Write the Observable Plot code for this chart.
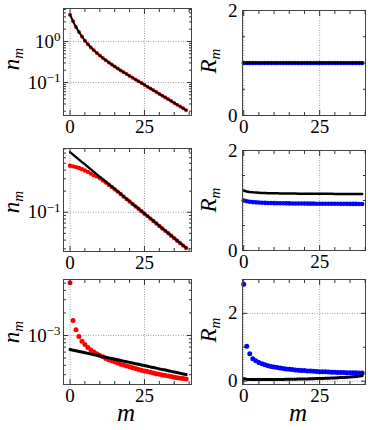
<!DOCTYPE html>
<html><head><meta charset="utf-8">
<script src="https://cdn.jsdelivr.net/npm/d3@7"></script>
<script src="https://cdn.jsdelivr.net/npm/@observablehq/plot@0.6"></script>
<style>
body{margin:0;background:#fff}
#c{position:relative;width:368px;height:430px;overflow:hidden}
#c svg{position:absolute;overflow:visible}
</style></head><body><div id="c"></div>
<script>
const mValues = [0,1,2,3,4,5,6,7,8,9,10,11,12,13,14,15,16,17,18,19,20,21,22,23,24,25,26,27,28,29,30,31,32,33,34,35,36,37,38,39];
const xMajor = [0,25];
const xMinor = [5,10,15,20,30,35,40];

// Row 1
const n1Red = [4.50,3.12,2.26,1.70,1.318,1.05,0.861,0.719,0.611,0.524,0.454,0.396,0.349,0.309,0.274,0.245,0.220,0.197,0.1774,0.1603,0.1445,0.1306,0.1183,0.1072,0.0970,0.0877,0.0793,0.0716,0.0647,0.0585,0.0528,0.0478,0.0432,0.0390,0.0352,0.0318,0.0288,0.0260,0.0235,0.0212];
const n1Black = [4.50,3.12,2.26,1.70,1.318,1.05,0.861,0.719,0.611,0.524,0.454,0.396,0.349,0.309,0.274,0.245,0.220,0.197,0.1774,0.1603,0.1445,0.1306,0.1183,0.1072,0.0970,0.0877,0.0793,0.0716,0.0647,0.0585,0.0528,0.0478,0.0432,0.0390,0.0352,0.0318,0.0288,0.0260,0.0235,0.0212];
const R1Blue = [1,1,1,1,1,1,1,1,1,1,1,1,1,1,1,1,1,1,1,1,1,1,1,1,1,1,1,1,1,1,1,1,1,1,1,1,1,1,1,1];
const R1Black = [1,1,1,1,1,1,1,1,1,1,1,1,1,1,1,1,1,1,1,1,1,1,1,1,1,1,1,1,1,1,1,1,1,1,1,1,1,1,1,1];

// Row 2
const n2Red = [0.461,0.452,0.441,0.429,0.412,0.394,0.377,0.356,0.336,0.325,0.305,0.285,0.266,0.247,0.230,0.213,0.197,0.182,0.167,0.154,0.142,0.131,0.121,0.112,0.1035,0.0953,0.0879,0.0811,0.0748,0.0690,0.0637,0.0587,0.0542,0.0500,0.0461,0.0426,0.0392,0.0362,0.0334,0.0309];
const n2Black = [0.720,0.664,0.613,0.565,0.521,0.481,0.444,0.409,0.378,0.348,0.321,0.296,0.273,0.252,0.233,0.215,0.198,0.183,0.168,0.155,0.143,0.132,0.122,0.113,0.104,0.0958,0.0884,0.0815,0.0752,0.0694,0.0640,0.0590,0.0545,0.0502,0.0463,0.0428,0.0394,0.0364,0.0336,0.0310];
const R2Blue = [1.00,0.985,0.975,0.968,0.963,0.959,0.956,0.953,0.951,0.949,0.947,0.946,0.945,0.944,0.943,0.942,0.941,0.940,0.940,0.939,0.938,0.938,0.937,0.937,0.936,0.936,0.935,0.935,0.935,0.934,0.934,0.934,0.933,0.933,0.933,0.932,0.932,0.932,0.931,0.931];
const R2Black = [1.20,1.18,1.17,1.163,1.158,1.154,1.151,1.149,1.147,1.145,1.144,1.143,1.142,1.141,1.140,1.139,1.138,1.138,1.137,1.137,1.136,1.136,1.135,1.135,1.134,1.134,1.134,1.133,1.133,1.133,1.132,1.132,1.132,1.131,1.131,1.131,1.130,1.130,1.130,1.130];

// Row 3
const n3Red = [5.05e-3,1.58e-3,1.19e-3,9.7e-4,8.4e-4,7.6e-4,6.9e-4,6.4e-4,6.0e-4,5.7e-4,5.4e-4,5.2e-4,4.95e-4,4.75e-4,4.6e-4,4.45e-4,4.3e-4,4.15e-4,4.03e-4,3.92e-4,3.82e-4,3.72e-4,3.62e-4,3.53e-4,3.45e-4,3.37e-4,3.30e-4,3.23e-4,3.16e-4,3.10e-4,3.04e-4,2.98e-4,2.93e-4,2.88e-4,2.83e-4,2.78e-4,2.74e-4,2.70e-4,2.66e-4,2.62e-4];
const n3Black = [6.50e-4,6.37e-4,6.25e-4,6.13e-4,6.01e-4,5.89e-4,5.77e-4,5.66e-4,5.55e-4,5.44e-4,5.33e-4,5.23e-4,5.13e-4,5.03e-4,4.93e-4,4.83e-4,4.74e-4,4.64e-4,4.55e-4,4.46e-4,4.38e-4,4.29e-4,4.21e-4,4.13e-4,4.05e-4,3.97e-4,3.89e-4,3.81e-4,3.74e-4,3.67e-4,3.59e-4,3.52e-4,3.46e-4,3.39e-4,3.32e-4,3.26e-4,3.20e-4,3.13e-4,3.07e-4,3.01e-4];
const R3Blue = [2.86,1.03,0.81,0.66,0.60,0.55,0.51,0.48,0.45,0.435,0.42,0.405,0.39,0.375,0.36,0.35,0.34,0.33,0.32,0.315,0.31,0.30,0.295,0.29,0.285,0.28,0.277,0.273,0.27,0.265,0.26,0.257,0.255,0.252,0.25,0.248,0.246,0.244,0.242,0.24];
const R3Black = [0.07,0.055,0.05,0.047,0.045,0.044,0.044,0.044,0.045,0.046,0.047,0.048,0.049,0.05,0.052,0.053,0.055,0.057,0.059,0.061,0.063,0.065,0.068,0.071,0.074,0.077,0.08,0.083,0.087,0.091,0.095,0.1,0.105,0.11,0.116,0.122,0.13,0.138,0.147,0.16];

// y ticks
const y1Major = [1,0.1], y1Labels = ["10^0","10^−1"];
const y1Minor = [0.02,0.03,0.04,0.05,0.06,0.07,0.08,0.09,0.2,0.3,0.4,0.5,0.6,0.7,0.8,0.9,2,3,4,5,6];
const y2Major = [0.1], y2Labels = ["10^−1"];
const y2Minor = [0.03,0.04,0.05,0.06,0.07,0.08,0.09,0.2,0.3,0.4,0.5,0.6,0.7,0.8];
const y3Major = [0.001], y3Labels = ["10^−3"];
const y3Minor = [3e-4,4e-4,5e-4,6e-4,7e-4,8e-4,9e-4,2e-3,3e-3,4e-3,5e-3];
const rMajor = [0,2], rMinorA = [0.5,1,1.5], rMinorB = [1,3];

const FONT = '"Liberation Serif", "Times New Roman", serif';
const C = document.getElementById("c");
const TICK = "#333";

function panel(o) {
  const fmtY = o.yLabels ? (d => o.yLabels[o.yMajor.indexOf(d)]) : (d => String(d));
  const marks = [
    Plot.gridX(xMajor, {stroke:"#888", strokeOpacity:1, strokeDasharray:"1,1.5", strokeWidth:0.8}),
    Plot.gridY(o.yMajor, {stroke:"#888", strokeOpacity:1, strokeDasharray:"1,1.5", strokeWidth:0.8}),
    ...o.marks,
    Plot.frame({stroke:"#444", strokeWidth:1}),
    Plot.axisX(xMajor, {anchor:"bottom", tickSize:0, tickPadding:4, label:null, tickFormat:d=>String(d), fontVariant:"normal"}),
    Plot.axisX(xMajor, {anchor:"bottom", tickSize:-5, label:null, tickFormat:()=>"", stroke:TICK}),
    Plot.axisX(xMajor, {anchor:"top", tickSize:-5, label:null, tickFormat:()=>"", stroke:TICK}),
    Plot.axisX(xMinor, {anchor:"bottom", tickSize:-3, label:null, tickFormat:()=>"", stroke:TICK}),
    Plot.axisX(xMinor, {anchor:"top", tickSize:-3, label:null, tickFormat:()=>"", stroke:TICK}),
    Plot.axisY(o.yMajor, {anchor:"left", tickSize:0, tickPadding:o.yPad, label:null, tickFormat:fmtY, fontVariant:"normal"}),
    Plot.axisY(o.yMajor, {anchor:"left", tickSize:-5, label:null, tickFormat:()=>"", stroke:TICK}),
    Plot.axisY(o.yMajor, {anchor:"right", tickSize:-5, label:null, tickFormat:()=>"", stroke:TICK}),
    Plot.axisY(o.yMinor, {anchor:"left", tickSize:-3, label:null, tickFormat:()=>"", stroke:TICK}),
    Plot.axisY(o.yMinor, {anchor:"right", tickSize:-3, label:null, tickFormat:()=>"", stroke:TICK})
  ];
  const svg = Plot.plot({
    width:o.w, height:o.h,
    marginTop:o.mt, marginBottom:o.mb, marginLeft:o.ml, marginRight:o.mr,
    style:{fontFamily:FONT, fontSize:"19px", color:"black", background:"transparent", overflow:"visible"},
    x:{domain:o.xd},
    y:{type:o.yt, domain:o.yd},
    marks
  });
  svg.style.left = o.left + "px";
  svg.style.top = o.top + "px";
  svg.querySelectorAll("text").forEach(t => {
    const s = t.textContent;
    if (s.includes("^")) {
      const [base, exp] = s.split("^");
      t.textContent = "";
      const ns = "http://www.w3.org/2000/svg";
      const a = document.createElementNS(ns, "tspan"); a.textContent = base; t.appendChild(a);
      const b = document.createElementNS(ns, "tspan"); b.textContent = exp;
      b.setAttribute("dy", "-0.5em"); b.setAttribute("font-size", "13px"); t.appendChild(b);
    }
  });
  const sel = d3.select(svg);
  const yl = sel.append("text")
    .attr("transform", `translate(${o.ylx},${o.yly}) rotate(-90)`)
    .attr("text-anchor", "middle")
    .attr("font-style", "italic").attr("fill", "black");
  yl.append("tspan").attr("font-size", 23).text(o.ylab[0]);
  yl.append("tspan").attr("font-size", 15).attr("dy", 4).text(o.ylab[1]);
  if (o.xlab) {
    sel.append("text").attr("x", o.xlab[0]).attr("y", o.xlab[1])
      .attr("text-anchor", "middle")
      .attr("font-style", "italic").attr("font-size", 25).attr("fill", "black").text("m");
  }
  C.appendChild(svg);
}

const leftBase = {left:0, w:195, ml:63, mr:4, xd:[-2.2,40.8], yt:"log", yPad:3, ylx:19, ylab:["n","m"]};
const rightBase = {left:195, w:173, ml:47, mr:3, xd:[-0.4,40.1], yt:"linear", yPad:5, ylx:21, ylab:["R","m"]};

panel({...leftBase, top:0, h:135, mt:8, mb:20, yd:[0.0157,6.38], yMajor:y1Major, yLabels:y1Labels, yMinor:y1Minor, yly:59,
  marks:[
    Plot.dot(mValues, {x:mValues, y:n1Red, r:2, fill:"#ff0000"}),
    Plot.line(mValues, {x:mValues, y:n1Black, stroke:"black", strokeWidth:2, curve:"catmull-rom"})
  ]});
panel({...rightBase, top:0, h:135, mt:10, mb:20, yd:[0,2], yMajor:rMajor, yMinor:rMinorA, yly:61,
  marks:[
    Plot.dot(mValues, {x:mValues, y:R1Blue, r:2.3, fill:"#0000ff"}),
    Plot.line(mValues, {x:mValues, y:R1Black, stroke:"black", strokeWidth:2})
  ]});
panel({...leftBase, top:140, h:135, mt:8, mb:24, yd:[0.0275,0.813], yMajor:y2Major, yLabels:y2Labels, yMinor:y2Minor, yly:62,
  marks:[
    Plot.dot(mValues, {x:mValues, y:n2Red, r:2.2, fill:"#ff0000"}),
    Plot.line(mValues, {x:mValues, y:n2Black, stroke:"black", strokeWidth:2.3})
  ]});
panel({...rightBase, top:140, h:135, mt:10, mb:25, yd:[0,2], yMajor:rMajor, yMinor:rMinorA, yly:60,
  marks:[
    Plot.dot(mValues, {x:mValues, y:R2Blue, r:2.3, fill:"#0000ff"}),
    Plot.line(mValues, {x:mValues, y:R2Black, stroke:"black", strokeWidth:2.5})
  ]});
panel({...leftBase, top:271, h:159, mt:8, mb:46, yd:[2.22e-4,5.58e-3], yMajor:y3Major, yLabels:y3Labels, yMinor:y3Minor, yly:61, xlab:[126,150],
  marks:[
    Plot.dot(mValues, {x:mValues, y:n3Red, r:2.5, fill:"#ff0000"}),
    Plot.line(mValues, {x:mValues, y:n3Black, stroke:"black", strokeWidth:3})
  ]});
panel({...rightBase, top:271, h:159, mt:8, mb:46, yd:[-0.1,3], yMajor:rMajor, yMinor:rMinorB, yly:59, xlab:[103,150],
  marks:[
    Plot.dot(mValues, {x:mValues, y:R3Blue, r:2.5, fill:"#0000ff"}),
    Plot.line(mValues, {x:mValues, y:R3Black, stroke:"black", strokeWidth:3})
  ]});
</script></body></html>
